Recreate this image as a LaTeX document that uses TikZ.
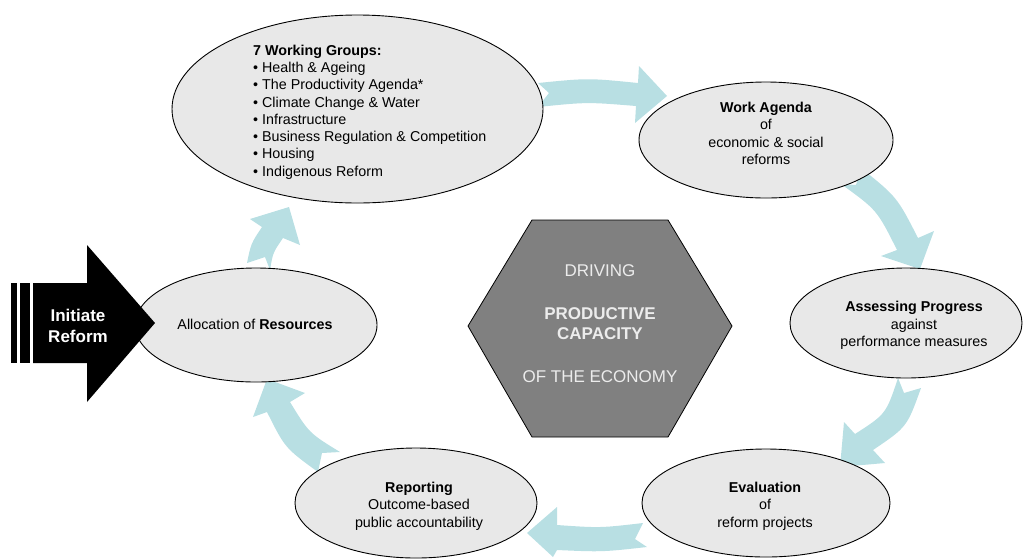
\documentclass[tikz,border=0pt]{standalone}
\usepackage{fontspec}
\setmainfont{Liberation Sans}
\usetikzlibrary{shapes.geometric}
\definecolor{cyclefill}{RGB}{184,223,227}
\definecolor{ovalfill}{RGB}{232,232,232}
\definecolor{hexfill}{RGB}{128,128,128}
\definecolor{hextext}{RGB}{236,236,236}
\begin{document}
\begin{tikzpicture}[x=1pt,y=-1pt,
  oval/.style={draw=black, line width=0.9pt, fill=ovalfill, ellipse, inner sep=0pt},
  cyclearrow/.style={fill=cyclefill, draw=none},
  bodytext/.style={font=\fontsize{14.3}{17.3}\selectfont, align=center, inner sep=0pt},
  hextxt/.style={font=\fontsize{17}{20}\selectfont, text=hextext, align=center, inner sep=0pt},
  hexagon/.style={draw=black, line width=0.8pt, fill=hexfill, line join=miter},
  startarrow/.style={fill=black, draw=none},
  starttext/.style={font=\fontsize{17}{21}\selectfont\bfseries, text=white, align=center, inner sep=0pt}]
\useasboundingbox (0,0) rectangle (1024,558);

% curved block arrows of the cycle (drawn below the ovals)
\fill[cyclearrow] (538,83) .. controls (588,78) .. (638,83) -- (639,66) -- (667,96)
  -- (635,123) -- (636,106) .. controls (587,102) .. (538,107) -- (549,93) -- cycle;
\fill[cyclearrow] (841,184) .. controls (877,210) .. (897,250) -- (881,256) -- (920,269)
  -- (934,231) -- (918,238) .. controls (897,197) .. (861,168) -- (856,185) -- cycle;
\fill[cyclearrow] (898,378) -- (904,393) -- (921,388) .. controls (907,427) .. (873,450)
  -- (885,463) -- (840,467) -- (844,422) -- (855,434) .. controls (886,414) .. (898,378) -- cycle;
\fill[cyclearrow] (643,523) .. controls (600,528) .. (557,525) -- (557,507) -- (527,533)
  -- (553,557) -- (557,550) .. controls (602,552) .. (647,547) -- (635,539) -- cycle;
\fill[cyclearrow] (340,452) -- (322,453) -- (318,472) .. controls (285,448) .. (267,412)
  -- (253,417) -- (267,379) -- (305,393) -- (290,402) .. controls (309,433) .. (340,452) -- cycle;
\fill[cyclearrow] (247,263) .. controls (251,243.5) .. (262,227) -- (250,219) -- (289,207)
  -- (300,245) -- (283,238) .. controls (273,252.5) .. (270,270) -- (265,257) -- cycle;

% ovals
\node[oval, minimum width=371pt, minimum height=188pt] (groups) at (357.5,109) {};
\node[oval, minimum width=254pt, minimum height=116pt] (agenda) at (766,140) {};
\node[oval, minimum width=232pt, minimum height=110pt] (assess) at (906,323) {};
\node[oval, minimum width=248pt, minimum height=108pt] (evaluate) at (766,503) {};
\node[oval, minimum width=242pt, minimum height=110pt] (report) at (416,503) {};
\node[oval, minimum width=242pt, minimum height=114pt] (alloc) at (256,325) {};

% oval texts
\node[bodytext, align=left, anchor=north west] (groupstext) at (253,44.6)
  {\textbf{7 Working Groups:}\\
   \textbullet\ Health \& Ageing\\
   \textbullet\ The Productivity Agenda*\\
   \textbullet\ Climate Change \& Water\\
   \textbullet\ Infrastructure\\
   \textbullet\ Business Regulation \& Competition\\
   \textbullet\ Housing\\
   \textbullet\ Indigenous Reform};
\node[bodytext] (agendatext) at (766,133.5)
  {\textbf{Work Agenda}\\of\\economic \& social\\reforms};
\node[bodytext] (assesstext) at (914,325.5)
  {\textbf{Assessing Progress}\\against\\performance measures};
\node[bodytext] (evaltext) at (765,506)
  {\textbf{Evaluation}\\of\\reform projects};
\node[bodytext] (reporttext) at (419,506)
  {\textbf{Reporting}\\Outcome-based\\public accountability};
\node[bodytext] (alloctext) at (255,324) {Allocation of \textbf{Resources}};

% central hexagon
\draw[hexagon] (532,220) -- (668,220) -- (732,326) -- (668,437) -- (532,437) -- (468,326) -- cycle;
\coordinate (hexcentre) at (600,328);
\node[hextxt] (driving) at (600,271) {DRIVING};
\node[hextxt, font=\fontsize{17}{20}\selectfont\bfseries] (capacity) at (600,324) {PRODUCTIVE\\CAPACITY};
\node[hextxt] (economy) at (600,377) {OF THE ECONOMY};

% start arrow
\fill[startarrow] (11,283) rectangle (16.7,363);
\fill[startarrow] (20,283) rectangle (29.5,363);
\fill[startarrow] (33,283) -- (87,283) -- (87,245) -- (155,323) -- (87,402) -- (87,363) -- (33,363) -- cycle;
\node[starttext] (initiate) at (78,325.5) {Initiate\\Reform};
\end{tikzpicture}
\end{document}
